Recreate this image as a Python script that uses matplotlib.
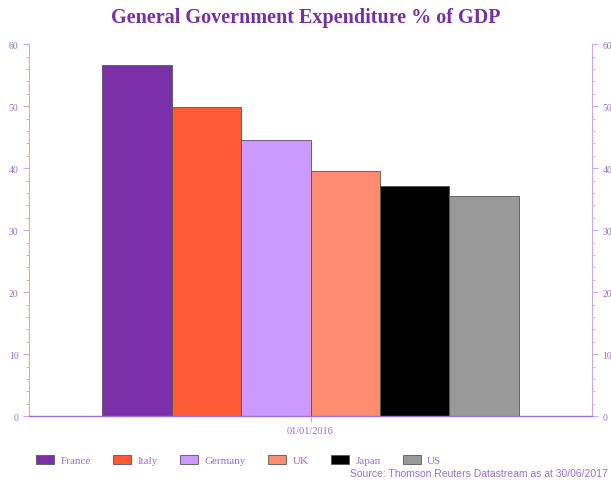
import matplotlib
matplotlib.use("Agg")
import matplotlib.pyplot as plt
import numpy as np
from matplotlib.ticker import MultipleLocator

categories = ["01/01/2016"]
countries = ["France", "Italy", "Germany", "UK", "Japan", "US"]
values = [56.6, 49.8, 44.5, 39.5, 37.1, 35.5]
colors = ["#7B2FA8", "#FF5A36", "#CC99FF", "#FF8C70", "#000000", "#999999"]
yticks = [0, 10, 20, 30, 40, 50, 60]

purple = "#7430A4"
tickc = "#9B6FD0"
serif = ["Liberation Serif", "DejaVu Serif"]

fig = plt.figure(figsize=(6.11, 4.85), dpi=100)
ax = fig.add_axes([0.0475, 0.140, 0.9215, 0.767])

n = len(countries)
group_w = 0.739
bw = group_w / n
x0 = 0
for i, (c, v, col) in enumerate(zip(countries, values, colors)):
    pos = x0 - group_w / 2 + bw * (i + 0.5)
    ax.bar(pos, v, width=bw, color=col, edgecolor="#555555", linewidth=0.6, label=c)

ax.set_xlim(-0.5, 0.5)
ax.set_ylim(0, 60)
ax.set_xticks([0])
ax.set_xticklabels(categories, fontfamily=serif, fontsize=7.5, color=tickc)
ax.set_yticks(yticks)
ax.set_yticklabels([str(t) for t in yticks], fontfamily=serif, fontsize=7, color=tickc)
ax.yaxis.set_minor_locator(MultipleLocator(2))
ax.tick_params(axis="y", which="both", left=True, right=True, labelleft=True, labelright=True,
               color="#C8A8E8", direction="out")
ax.tick_params(axis="y", which="major", length=4, width=0.8)
ax.tick_params(axis="y", which="minor", length=2, width=0.6)
ax.tick_params(axis="x", length=4, color="#C8A8E8", pad=3)
for s in ["top"]:
    ax.spines[s].set_visible(False)
for s in ["left", "right"]:
    ax.spines[s].set_color("#C8A8E8")
    ax.spines[s].set_linewidth(0.8)
ax.spines["bottom"].set_color("#A070D0")
ax.spines["bottom"].set_linewidth(1.0)

fig.text(0.5, 0.962, "General Government Expenditure % of GDP", ha="center", va="center",
         fontfamily=serif, fontsize=14.5, fontweight="bold", color=purple)

leg = fig.legend(loc="center left", bbox_to_anchor=(0.043, 0.05), ncol=6, frameon=False,
                 prop={"family": serif, "size": 8}, handlelength=1.6, handleheight=0.9,
                 columnspacing=2.0, handletextpad=0.6)
for t in leg.get_texts():
    t.set_color(tickc)

fig.text(0.994, 0.013, "Source: Thomson Reuters Datastream as at 30/06/2017", ha="right", va="bottom",
         fontfamily=["Liberation Sans", "DejaVu Sans"], fontsize=7.5, color="#9B6FD0")

fig.savefig("out.png", dpi=100)
